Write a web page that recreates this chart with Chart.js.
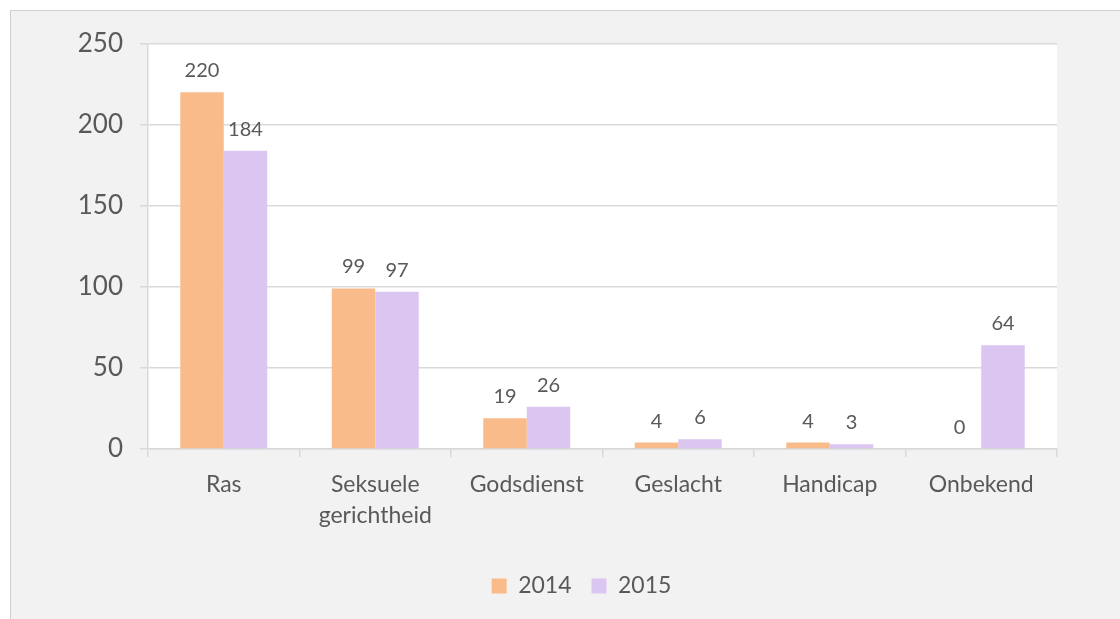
<!DOCTYPE html>
<html>
<head>
<meta charset="utf-8">
<script src="https://cdn.jsdelivr.net/npm/chart.js@4"></script>
<style>
  html, body { margin: 0; padding: 0; background: #ffffff; }
  #wrap {
    position: absolute; left: 10px; top: 10px;
    width: 1109px; height: 608px;
    background: #f2f2f2;
    border-left: 1px solid #d0d0d0;
    border-top: 1px solid #d0d0d0;
  }
  #chart { display: block; }
</style>
</head>
<body>
<div id="wrap"><canvas id="chart" width="1109" height="608"></canvas></div>
<script>
// data
var categories = ['Ras', ['Seksuele', 'gerichtheid'], 'Godsdienst', 'Geslacht', 'Handicap', 'Onbekend'];
var values2014 = [220, 99, 19, 4, 4, 0];
var values2015 = [184, 97, 26, 6, 3, 64];
var yTicks = [0, 50, 100, 150, 200, 250];

var textColor = '#595959';
var gridColor = '#d9d9d9';

// white plot area behind grid + bars
var plotBg = {
    id: 'plotBg',
    beforeDraw: function (chart) {
        var a = chart.chartArea;
        var ctx = chart.ctx;
        ctx.save();
        ctx.fillStyle = '#ffffff';
        ctx.fillRect(a.left, a.top, a.right - a.left, a.bottom - a.top);
        ctx.restore();
    }
};

// value labels above the bars
var barLabels = {
    id: 'barLabels',
    afterDatasetsDraw: function (chart) {
        var ctx = chart.ctx;
        ctx.save();
        ctx.font = '20px Lato';
        ctx.fillStyle = textColor;
        ctx.textAlign = 'center';
        ctx.textBaseline = 'alphabetic';
        chart.data.datasets.forEach(function (ds, i) {
            chart.getDatasetMeta(i).data.forEach(function (bar, j) {
                ctx.fillText(String(ds.data[j]), bar.x, bar.y - 15);
            });
        });
        ctx.restore();
    }
};

var ctx = document.getElementById('chart').getContext('2d');
var chart = new Chart(ctx, {
    type: 'bar',
    data: {
        labels: categories,
        datasets: [{
            label: '2014',
            data: values2014,
            backgroundColor: '#fabb8a',
            borderWidth: 0
        }, {
            label: '2015',
            data: values2015,
            backgroundColor: '#dbc6f1',
            borderWidth: 0
        }]
    },
    options: {
        responsive: false,
        animation: false,
        devicePixelRatio: 1,
        layout: { padding: { left: 60, right: 28, top: 32, bottom: 11.5 } },
        datasets: {
            bar: { barPercentage: 1, categoryPercentage: 0.574 }
        },
        scales: {
            x: {
                grid: {
                    offset: true,
                    drawOnChartArea: false,
                    drawTicks: true,
                    tickLength: 8,
                    color: gridColor,
                    lineWidth: 1.5
                },
                border: { color: gridColor, width: 1.5 },
                ticks: {
                    color: textColor,
                    font: { family: 'Lato', size: 23, lineHeight: 1.35 },
                    padding: 12,
                    maxRotation: 0,
                    autoSkip: false
                },
                afterFit: function (scale) { scale.height = 105.5; }
            },
            y: {
                min: 0,
                max: 250,
                afterBuildTicks: function (scale) {
                    scale.ticks = yTicks.map(function (v) { return { value: v }; });
                },
                grid: {
                    color: gridColor,
                    lineWidth: 1.5,
                    drawTicks: true,
                    tickLength: 8
                },
                border: { color: gridColor, width: 1.5 },
                ticks: {
                    color: textColor,
                    font: { family: 'Lato', size: 26 },
                    padding: 17
                },
                afterFit: function (scale) { scale.width = 77; }
            },
            // empty spacer on the right so the legend sits where it does in the original
            yRight: {
                type: 'linear',
                position: 'right',
                grid: { display: false },
                border: { display: false },
                ticks: { display: false },
                afterFit: function (scale) { scale.width = 35; }
            }
        },
        plugins: {
            legend: {
                position: 'bottom',
                labels: {
                    color: textColor,
                    font: { family: 'Lato', size: 23 },
                    boxWidth: 15,
                    boxHeight: 15,
                    padding: 20
                }
            },
            tooltip: { enabled: false }
        }
    },
    plugins: [plotBg, barLabels]
});
</script>
</body>
</html>
